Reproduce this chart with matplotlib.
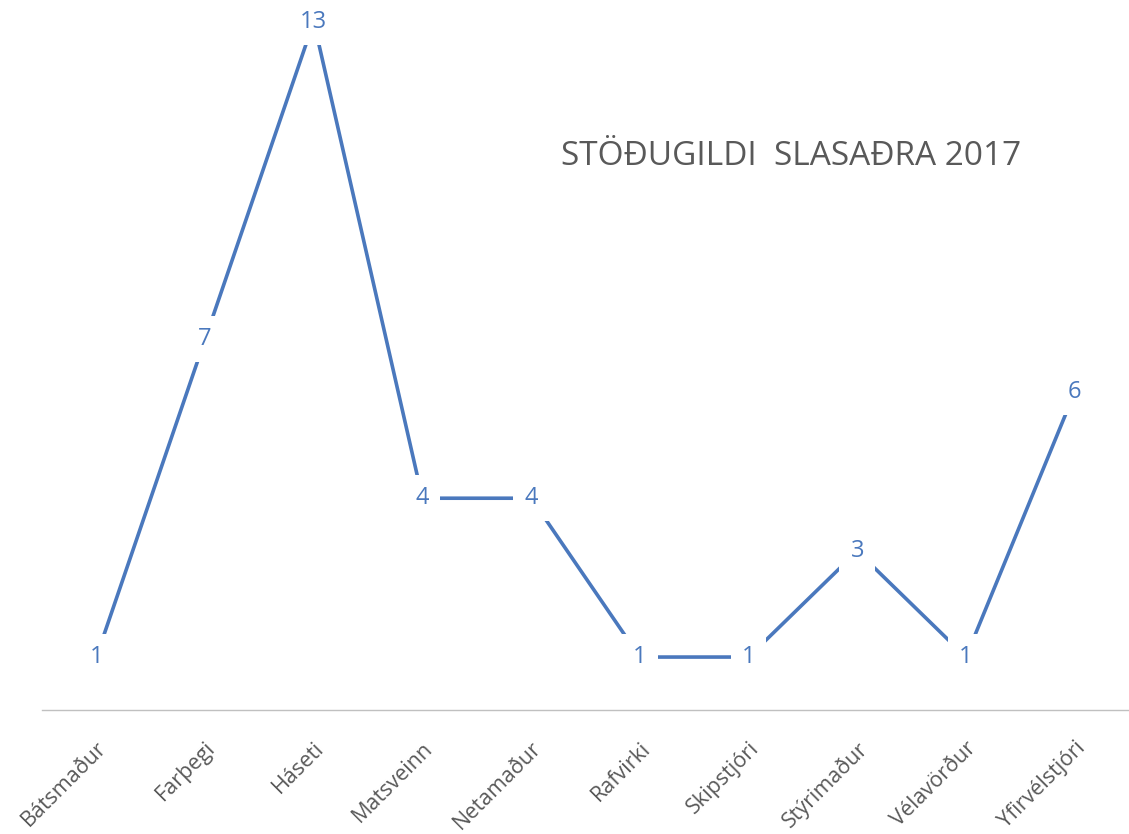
import matplotlib.pyplot as plt

roles = ['Bátsmaður', 'Farþegi', 'Háseti', 'Matsveinn', 'Netamaður',
         'Rafvirki', 'Skipstjóri', 'Stýrimaður', 'Vélavörður', 'Yfirvélstjóri']
counts = [1, 7, 13, 4, 4, 1, 1, 3, 1, 6]

line_col = '#4a78bd'
grey = '#595959'

plt.rcParams['font.family'] = ['Open Sans', 'DejaVu Sans']

fig = plt.figure(figsize=(11.29, 8.34), dpi=100)
ax = fig.add_axes([42 / 1129, 124 / 834, 1 - 42 / 1129, 1 - 124 / 834])

x = list(range(len(roles)))
ax.plot(x, counts, color=line_col, lw=2.6, solid_capstyle='butt')

# data labels sit on the points, white box cuts the line
for xi, v in zip(x, counts):
    ax.text(xi, v, str(v), ha='center', va='center', fontsize=17,
            color=line_col,
            bbox=dict(facecolor='white', edgecolor='none', pad=8))

ax.set_xlim(-0.5, 9.5)
ax.set_ylim(0, 13.41)
ax.set_yticks([])
ax.set_xticks(x)
ax.set_xticklabels(roles, rotation=45, ha='right', rotation_mode='anchor',
                   fontsize=15.5, color=grey)
ax.tick_params(axis='x', length=0, pad=20)

for s in ['top', 'right', 'left']:
    ax.spines[s].set_visible(False)
ax.spines['bottom'].set_color('#c0c0c0')
ax.spines['bottom'].set_linestyle((0, (1, 1)))
ax.spines['bottom'].set_linewidth(1)

ax.text(0.689, 0.78, 'STÖÐUGILDI  SLASAÐRA 2017', transform=ax.transAxes,
        ha='center', va='center', fontsize=24, color=grey)

fig.savefig('out.png', dpi=100)
